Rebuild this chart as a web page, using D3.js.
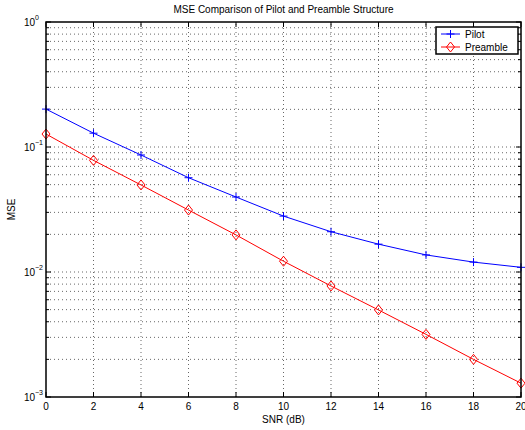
<!DOCTYPE html>
<html>
<head>
<meta charset="utf-8">
<script src="https://cdn.jsdelivr.net/npm/d3@7"></script>
<style>
  html, body { margin: 0; padding: 0; background: #fff; }
  svg { display: block; font-family: "Liberation Sans", Arial, sans-serif; }
</style>
</head>
<body>
<svg id="chart" width="525" height="430"></svg>
<script>
// Data
const snr = [0, 2, 4, 6, 8, 10, 12, 14, 16, 18, 20];
const msePilot = [0.201, 0.129, 0.0863, 0.0568, 0.0398, 0.0280, 0.0210, 0.0167, 0.0137, 0.0120, 0.0109];
const msePreamble = [0.127, 0.0782, 0.0497, 0.0313, 0.0198, 0.0122, 0.00773, 0.00497, 0.00317, 0.00200, 0.00129];
const xTicks = [0, 2, 4, 6, 8, 10, 12, 14, 16, 18, 20];
const yDecades = [-3, -2, -1, 0];
const seriesNames = ["Pilot", "Preamble"];

const svg = d3.select("#chart");
const m = { left: 46, right: 4, top: 22, bottom: 33 };
const W = 525, H = 430;

const x = d3.scaleLinear().domain([0, 20]).range([m.left, W - m.right]);
const y = d3.scaleLog().domain([1e-3, 1]).range([H - m.bottom, m.top]);

// minor log positions
const minorY = [];
yDecades.slice(0, 3).forEach(e => {
  for (let k = 2; k <= 9; k++) minorY.push(k * Math.pow(10, e));
});
const majorY = yDecades.map(e => Math.pow(10, e));

const gGrid = svg.append("g").attr("class", "grid");
const dotted = sel => sel.attr("stroke", "#000").attr("stroke-width", 0.6).attr("stroke-dasharray", "1,3");

xTicks.slice(1, -1).forEach(v => {
  gGrid.append("line").attr("x1", x(v)).attr("x2", x(v))
    .attr("y1", y(1e-3)).attr("y2", y(1)).call(dotted);
});
minorY.concat(majorY.slice(1, -1)).forEach(v => {
  gGrid.append("line").attr("x1", x(0)).attr("x2", x(20))
    .attr("y1", y(v)).attr("y2", y(v)).call(dotted);
});

// ticks (inward, on all four sides)
const gTicks = svg.append("g").attr("stroke", "#000").attr("stroke-width", 1);
xTicks.forEach(v => {
  gTicks.append("line").attr("x1", x(v)).attr("x2", x(v)).attr("y1", y(1e-3)).attr("y2", y(1e-3) - 5);
  gTicks.append("line").attr("x1", x(v)).attr("x2", x(v)).attr("y1", y(1)).attr("y2", y(1) + 5);
});
majorY.forEach(v => {
  gTicks.append("line").attr("x1", x(0)).attr("x2", x(0) + 5).attr("y1", y(v)).attr("y2", y(v));
  gTicks.append("line").attr("x1", x(20)).attr("x2", x(20) - 5).attr("y1", y(v)).attr("y2", y(v));
});
minorY.forEach(v => {
  gTicks.append("line").attr("x1", x(0)).attr("x2", x(0) + 3).attr("y1", y(v)).attr("y2", y(v));
  gTicks.append("line").attr("x1", x(20)).attr("x2", x(20) - 3).attr("y1", y(v)).attr("y2", y(v));
});

// series
const line = d3.line().x((d, i) => x(snr[i])).y(d => y(d));
const series = [
  { name: seriesNames[0], values: msePilot, color: "#0000ff", marker: "plus" },
  { name: seriesNames[1], values: msePreamble, color: "#ff0000", marker: "diamond" }
];

function drawMarker(g, type, cx, cy, color) {
  if (type === "plus") {
    g.append("path").attr("d", `M${cx - 4},${cy}H${cx + 4}M${cx},${cy - 4}V${cy + 4}`)
      .attr("stroke", color).attr("stroke-width", 1).attr("fill", "none");
  } else {
    g.append("path").attr("d", `M${cx},${cy - 5}L${cx + 4},${cy}L${cx},${cy + 5}L${cx - 4},${cy}Z`)
      .attr("stroke", color).attr("stroke-width", 1).attr("fill", "none");
  }
}

const gSeries = svg.append("g");
series.forEach(s => {
  gSeries.append("path").datum(s.values).attr("d", line)
    .attr("fill", "none").attr("stroke", s.color).attr("stroke-width", 1);
  s.values.forEach((v, i) => drawMarker(gSeries, s.marker, x(snr[i]), y(v), s.color));
});

// axes box
svg.append("rect").attr("x", x(0)).attr("y", y(1))
  .attr("width", x(20) - x(0)).attr("height", y(1e-3) - y(1))
  .attr("fill", "none").attr("stroke", "#000").attr("stroke-width", 1.5);

// tick labels
const gLab = svg.append("g").attr("font-size", 10).attr("fill", "#000");
xTicks.forEach(v => {
  gLab.append("text").attr("x", x(v)).attr("y", y(1e-3) + 13)
    .attr("text-anchor", "middle").text(v);
});
yDecades.forEach(e => {
  const t = gLab.append("text").attr("x", 35).attr("y", y(Math.pow(10, e)) + 4)
    .attr("text-anchor", "end");
  t.append("tspan").text("10");
  const sup = svg.append("text").attr("x", 35).attr("y", y(Math.pow(10, e)) - 2)
    .attr("font-size", 7).text(e === 0 ? "0" : "\u2212" + (-e));
});

// titles
svg.append("text").attr("x", (x(0) + x(20)) / 2).attr("y", 13)
  .attr("text-anchor", "middle").attr("font-size", 10).text("MSE Comparison of Pilot and Preamble Structure");
svg.append("text").attr("x", (x(0) + x(20)) / 2).attr("y", 423)
  .attr("text-anchor", "middle").attr("font-size", 10).text("SNR (dB)");
svg.append("text").attr("transform", `translate(15,${(y(1) + y(1e-3)) / 2}) rotate(-90)`)
  .attr("text-anchor", "middle").attr("font-size", 10).text("MSE");

// legend
const lg = svg.append("g").attr("transform", "translate(436,27)");
lg.append("rect").attr("width", 82).attr("height", 27)
  .attr("fill", "#fff").attr("stroke", "#000").attr("stroke-width", 1.5);
series.forEach((s, i) => {
  const ly = 7 + i * 13;
  lg.append("line").attr("x1", 5).attr("x2", 24).attr("y1", ly).attr("y2", ly)
    .attr("stroke", s.color).attr("stroke-width", 1);
  drawMarker(lg, s.marker, 14.5, ly, s.color);
  lg.append("text").attr("x", 29).attr("y", ly + 4).attr("font-size", 10).text(s.name);
});
</script>
</body>
</html>
